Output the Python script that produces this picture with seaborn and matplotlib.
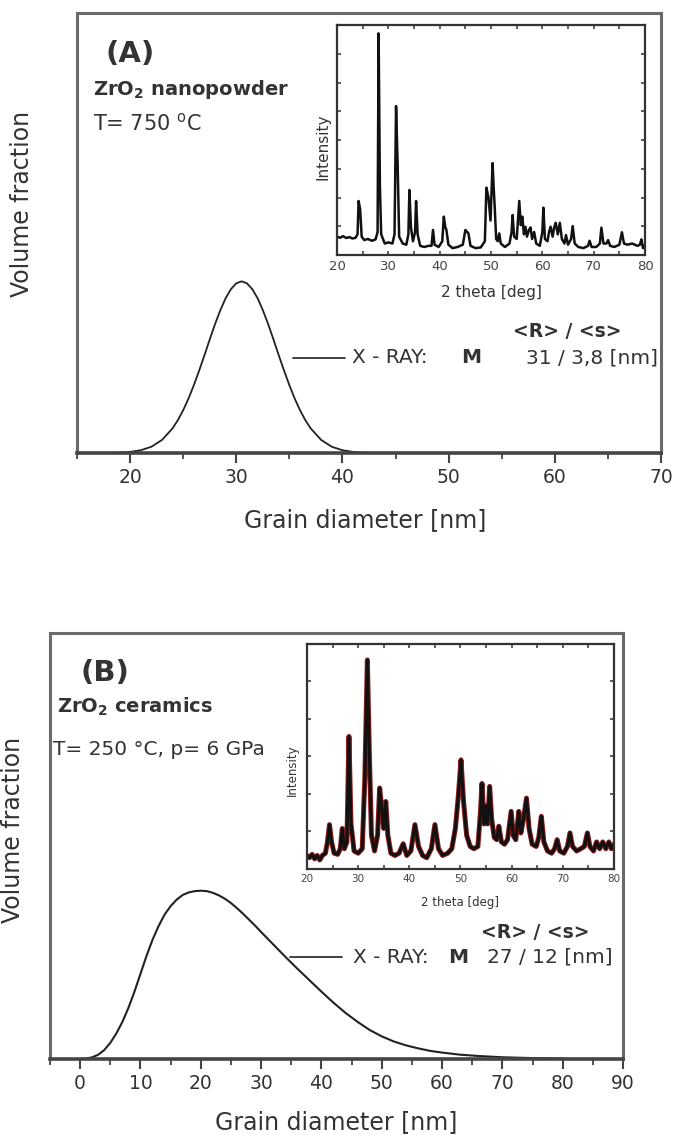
import numpy as np
import pandas as pd
import matplotlib
matplotlib.use('Agg')
import matplotlib.pyplot as plt
import seaborn as sns

# ---- panel A: grain size distribution (X-ray), ZrO2 nanopowder
diam_a = [18, 19, 20, 21, 22, 23, 24, 24.5, 25, 25.5, 26, 26.5, 27, 27.5, 28,
          28.5, 29, 29.5, 30, 30.5, 31, 31.5, 32, 32.5, 33, 33.5, 34, 34.5,
          35, 35.5, 36, 36.5, 37, 38, 39, 40, 41, 42, 43, 44, 45]
frac_a = [0.0003, 0.0009, 0.0025, 0.0062, 0.0141, 0.0295, 0.056, 0.0747,
          0.0973, 0.1237, 0.154, 0.187, 0.222, 0.258, 0.293, 0.3246, 0.352,
          0.3725, 0.3856, 0.39, 0.3856, 0.3725, 0.352, 0.3246, 0.293, 0.258,
          0.222, 0.187, 0.154, 0.1237, 0.0973, 0.0747, 0.056, 0.0295, 0.0141,
          0.0062, 0.0025, 0.0009, 0.0003, 0.0001, 0.0]

# inset A: XRD pattern
tt_a = [20.0, 20.6, 21.2, 21.8, 22.4, 23.0, 23.6, 24.0, 24.2, 24.5, 24.8,
        25.3, 26.0, 26.8, 27.5, 27.9, 28.1, 28.35, 28.6, 29.3, 30.0, 30.8,
        31.2, 31.5, 31.8, 32.1, 32.8, 33.5, 33.9, 34.1, 34.4, 34.8, 35.2,
        35.4, 35.7, 36.2, 37.0, 37.8, 38.4, 38.7, 39.0, 39.8, 40.5, 40.8,
        41.1, 41.3, 41.7, 42.5, 43.5, 44.5, 45.0, 45.6, 46.0, 47.0, 48.0,
        48.8, 49.1, 49.5, 49.9, 50.3, 50.5, 50.7, 51.0, 51.3, 51.6, 51.9,
        52.7, 53.6, 54.0, 54.2, 54.5, 55.0, 55.5, 55.8, 56.1, 56.4, 56.7,
        57.0, 57.4, 57.7, 58.0, 58.4, 58.8, 59.5, 60.0, 60.2, 60.5, 61.0,
        61.3, 61.6, 62.0, 62.3, 62.6, 63.0, 63.4, 63.8, 64.3, 64.6, 65.0,
        65.6, 65.9, 66.3, 67.0, 68.0, 68.9, 69.2, 69.6, 70.5, 71.2, 71.5,
        71.9, 72.5, 72.8, 73.2, 74.0, 75.0, 75.5, 75.9, 76.6, 77.5, 78.5,
        79.0, 79.3, 79.6, 80.0]
int_a = [0.08, 0.075, 0.082, 0.074, 0.078, 0.072, 0.075, 0.09, 0.235, 0.20,
         0.08, 0.065, 0.07, 0.062, 0.068, 0.10, 0.964, 0.30, 0.09, 0.05,
         0.055, 0.05, 0.09, 0.648, 0.40, 0.08, 0.05, 0.045, 0.09, 0.283,
         0.12, 0.06, 0.10, 0.235, 0.09, 0.04, 0.035, 0.04, 0.04, 0.109,
         0.045, 0.035, 0.06, 0.167, 0.12, 0.11, 0.045, 0.03, 0.035, 0.045,
         0.109, 0.094, 0.04, 0.03, 0.033, 0.06, 0.293, 0.25, 0.15, 0.40,
         0.30, 0.217, 0.07, 0.06, 0.094, 0.05, 0.035, 0.05, 0.10, 0.174,
         0.08, 0.07, 0.235, 0.13, 0.167, 0.09, 0.123, 0.08, 0.11, 0.12,
         0.07, 0.10, 0.05, 0.04, 0.10, 0.206, 0.07, 0.06, 0.10, 0.123, 0.08,
         0.12, 0.14, 0.09, 0.14, 0.07, 0.05, 0.087, 0.045, 0.07, 0.126, 0.05,
         0.035, 0.03, 0.04, 0.062, 0.035, 0.035, 0.05, 0.119, 0.05, 0.05,
         0.065, 0.04, 0.035, 0.045, 0.099, 0.05, 0.045, 0.05, 0.04, 0.045,
         0.068, 0.03, 0.045]

# ---- panel B: ZrO2 ceramics
diam_b = [0, 1, 2, 3, 4, 5, 6, 7, 8, 9, 10, 11, 12, 13, 14, 15, 16, 17, 18,
          19, 20, 21, 22, 23, 24, 25, 26, 27, 28, 29, 30, 32, 34, 36, 38, 40,
          42, 44, 46, 48, 50, 52, 54, 56, 58, 60, 63, 66, 70, 75, 80]
frac_b = [0.0, 0.001, 0.004, 0.010, 0.021, 0.038, 0.060, 0.087, 0.120,
          0.158, 0.200, 0.242, 0.280, 0.312, 0.339, 0.359, 0.374, 0.385,
          0.391, 0.394, 0.395, 0.394, 0.390, 0.384, 0.376, 0.366, 0.354,
          0.341, 0.327, 0.313, 0.298, 0.269, 0.240, 0.212, 0.185, 0.158,
          0.132, 0.108, 0.087, 0.068, 0.053, 0.041, 0.032, 0.025, 0.019,
          0.015, 0.010, 0.007, 0.004, 0.002, 0.001]

tt_b = [20.0, 20.5, 21.0, 21.5, 22.0, 22.5, 23.0, 23.6, 24.0, 24.4, 24.8,
        25.3, 26.0, 26.5, 26.9, 27.3, 27.8, 28.2, 28.6, 29.2, 30.0, 30.8,
        31.3, 31.8, 32.2, 32.6, 33.2, 33.8, 34.2, 34.7, 35.0, 35.4, 35.8,
        36.4, 37.2, 38.0, 38.8, 39.5, 40.3, 41.1, 41.8, 42.6, 43.4, 44.3,
        45.0, 45.7, 46.5, 47.5, 48.3, 49.0, 49.6, 50.1, 50.6, 51.2, 51.9,
        52.6, 53.4, 53.9, 54.2, 54.6, 55.0, 55.3, 55.7, 56.1, 56.6, 57.1,
        57.5, 58.0, 58.6, 59.2, 59.9, 60.3, 60.8, 61.4, 61.8, 62.3, 62.9,
        63.4, 64.0, 64.8, 65.3, 65.8, 66.3, 67.0, 67.8, 68.4, 68.9, 69.4,
        70.2, 70.9, 71.4, 71.9, 72.7, 73.5, 74.2, 74.8, 75.3, 76.0, 76.6,
        77.2, 77.8, 78.4, 79.0, 79.5, 80.0]
int_b = [0.06, 0.05, 0.065, 0.045, 0.06, 0.04, 0.06, 0.07, 0.12, 0.197,
         0.12, 0.07, 0.065, 0.09, 0.18, 0.09, 0.12, 0.589, 0.20, 0.08, 0.07,
         0.09, 0.40, 0.929, 0.50, 0.15, 0.08, 0.15, 0.36, 0.25, 0.18, 0.30,
         0.15, 0.07, 0.06, 0.07, 0.112, 0.06, 0.08, 0.197, 0.10, 0.06, 0.05,
         0.09, 0.197, 0.09, 0.06, 0.07, 0.09, 0.18, 0.33, 0.485, 0.30, 0.15,
         0.10, 0.09, 0.10, 0.25, 0.38, 0.20, 0.28, 0.20, 0.367, 0.22, 0.14,
         0.13, 0.19, 0.12, 0.11, 0.13, 0.256, 0.15, 0.13, 0.256, 0.16, 0.22,
         0.315, 0.18, 0.11, 0.10, 0.14, 0.234, 0.12, 0.08, 0.07, 0.09, 0.13,
         0.08, 0.07, 0.10, 0.16, 0.10, 0.08, 0.09, 0.10, 0.16, 0.10, 0.08,
         0.12, 0.09, 0.12, 0.09, 0.12, 0.09, 0.11]

xticks_a = [20, 30, 40, 50, 60, 70]
xticks_b = [0, 10, 20, 30, 40, 50, 60, 70, 80, 90]
xticks_xrd = [20, 30, 40, 50, 60, 70, 80]

sns.set_style('white')
plt.rcParams['font.family'] = ['DejaVu Sans']
plt.rcParams['mathtext.default'] = 'regular'
plt.rcParams['text.color'] = '#333333'
plt.rcParams['axes.labelcolor'] = '#333333'

fig = plt.figure(figsize=(6.75, 11.35), dpi=100)


def style_main(ax, xlim, xticks):
    ax.set_xlim(*xlim)
    ax.set_ylim(0, 1)
    ax.set_xticks(xticks)
    ax.set_xticks(np.arange(xlim[0], xlim[1] + 0.1, 5), minor=True)
    ax.set_yticks([])
    for s in ax.spines.values():
        s.set_color('#6a6a6a')
        s.set_linewidth(2.2)
    ax.spines['bottom'].set_color('#444444')
    ax.spines['bottom'].set_linewidth(2.6)
    ax.tick_params(axis='x', which='major', direction='out', length=7,
                   width=1.5, color='#444444', labelsize=13.5,
                   labelcolor='#333333', bottom=True)
    ax.tick_params(axis='x', which='minor', direction='out', length=4,
                   width=1.3, color='#444444', bottom=True)
    ax.set_xlabel('Grain diameter [nm]', fontsize=17)
    ax.set_ylabel('Volume fraction', fontsize=17)
    ax.xaxis.label.set_va('center')
    ax.yaxis.label.set_va('center')


def style_inset(ax, lab, ylab, tick, yt):
    ax.set_xlim(20, 80)
    ax.set_ylim(0, 1)
    ax.set_xticks(xticks_xrd)
    ax.set_xticks(np.arange(20, 81, 5), minor=True)
    ax.set_yticks(yt)
    ax.set_yticklabels([])
    for s in ax.spines.values():
        s.set_color('#333333')
        s.set_linewidth(1.6)
    ax.tick_params(which='both', direction='in', top=True, right=True,
                   left=True, bottom=True, length=3, width=1.1,
                   color='#333333', labelsize=tick, labelcolor='#444444')
    ax.set_xlabel('2 theta [deg]', fontsize=lab)
    ax.set_ylabel('Intensity', fontsize=ylab)
    ax.xaxis.label.set_va('center')
    ax.yaxis.label.set_va('center')


# ---------------- panel A
ax_a = fig.add_axes([0.1141, 0.6009, 0.8652, 0.3877])
sns.lineplot(x=diam_a, y=frac_a, ax=ax_a, color='#222222', lw=1.3,
             estimator=None)
style_main(ax_a, (15, 70), xticks_a)
ax_a.xaxis.set_label_coords(0.493, -0.152)
ax_a.yaxis.set_label_coords(-0.094, 0.566)

ax_a.text(17.7, 0.889, '(A)', fontsize=21, fontweight='bold')
ax_a.text(16.5, 0.814, 'ZrO$_2$ nanopowder', fontsize=14,
          fontweight='bold')
ax_a.text(16.5, 0.732, 'T= 750 $^o$C', fontsize=15)
ax_a.plot([35.3, 40.2], [0.216, 0.216], color='#333333', lw=1.3)
ax_a.text(40.9, 0.216, 'X - RAY:', fontsize=14.5, va='center')
ax_a.text(51.2, 0.216, 'M', fontsize=14.5, va='center', fontweight='bold')
ax_a.text(57.3, 0.216, '31 / 3,8 [nm]', fontsize=14.5, va='center')
ax_a.text(56.1, 0.275, '<R> / <s>', fontsize=13.5, va='center',
          fontweight='bold')

ins_a = fig.add_axes([0.4993, 0.7753, 0.4563, 0.2026])
sns.lineplot(x=tt_a, y=int_a, ax=ins_a, color='#111111', lw=1.8,
             estimator=None)
style_inset(ins_a, 11, 11, 9.5, np.arange(0, 1.01, 0.125))
ins_a.xaxis.set_label_coords(0.5, -0.165)
ins_a.yaxis.set_label_coords(-0.045, 0.47)

# ---------------- panel B
ax_b = fig.add_axes([0.0741, 0.0670, 0.8489, 0.3753])
sns.lineplot(x=diam_b, y=frac_b, ax=ax_b, color='#222222', lw=1.5,
             estimator=None)
style_main(ax_b, (-5, 90), xticks_b)
ax_b.xaxis.set_label_coords(0.5, -0.148)
ax_b.yaxis.set_label_coords(-0.064, 0.537)

ax_b.text(0.0, 0.887, '(B)', fontsize=21, fontweight='bold')
ax_b.text(-3.8, 0.812, 'ZrO$_2$ ceramics', fontsize=14,
          fontweight='bold')
ax_b.text(-4.5, 0.714, 'T= 250 °C, p= 6 GPa', fontsize=14.5)
ax_b.plot([34.8, 43.4], [0.239, 0.239], color='#333333', lw=1.3)
ax_b.text(45.2, 0.239, 'X - RAY:', fontsize=14.5, va='center')
ax_b.text(61.0, 0.239, 'M', fontsize=14.5, va='center', fontweight='bold')
ax_b.text(67.5, 0.239, '27 / 12 [nm]', fontsize=14.5, va='center')
ax_b.text(66.4, 0.296, '<R> / <s>', fontsize=13.5, va='center',
          fontweight='bold')

ins_b = fig.add_axes([0.4548, 0.2344, 0.4548, 0.1982])
sns.lineplot(x=tt_b, y=int_b, ax=ins_b, color='#8b1a1a', lw=3.6,
             estimator=None)
sns.lineplot(x=tt_b, y=int_b, ax=ins_b, color='#111111', lw=2.2,
             estimator=None)
style_inset(ins_b, 8.5, 8.5, 7.5, np.arange(0, 1.01, 1 / 6))
ins_b.xaxis.set_label_coords(0.5, -0.147)
ins_b.yaxis.set_label_coords(-0.049, 0.44)

fig.savefig('out.png', dpi=100)
